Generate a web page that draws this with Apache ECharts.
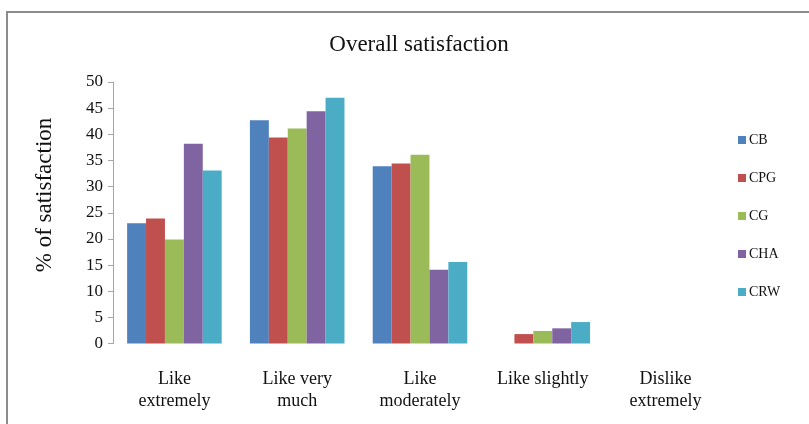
<!DOCTYPE html>
<html>
<head>
<meta charset="utf-8">
<script src="https://cdn.jsdelivr.net/npm/echarts@6/dist/echarts.min.js"></script>
<style>
  html, body { margin: 0; padding: 0; background: #fff; }
  #chart { width: 809px; height: 424px; }
</style>
</head>
<body>
<div id="chart"></div>
<script>
// Satisfaction levels (x-axis categories)
const categories = ['Like\nextremely', 'Like very\nmuch', 'Like\nmoderately', 'Like slightly', 'Dislike\nextremely'];

// Percentage of satisfaction per product
const seriesNames = ['CB', 'CPG', 'CG', 'CHA', 'CRW'];
const CB  = [23.0, 42.7, 33.9, 0,   0];
const CPG = [23.9, 39.4, 34.4, 1.8, 0];
const CG  = [19.9, 41.1, 36.1, 2.4, 0];
const CHA = [38.2, 44.4, 14.1, 2.9, 0];
const CRW = [33.1, 47.0, 15.6, 4.1, 0];
const seriesValues = [CB, CPG, CG, CHA, CRW];

const colors = ['#4F81BD', '#C0504D', '#9BBB59', '#8064A2', '#4BACC6'];
const serif = '"Liberation Serif", "DejaVu Serif", serif';

const chart = echarts.init(document.getElementById('chart'), null, { renderer: 'canvas' });

chart.setOption({
  backgroundColor: '#fff',
  animation: false,
  color: colors,
  graphic: [
    {
      // outer chart frame
      type: 'rect',
      shape: { x: 7, y: 12, width: 900, height: 500 },
      style: { fill: 'none', stroke: '#8c8c8c', lineWidth: 2 },
      silent: true
    },
    {
      // value axis title
      type: 'text',
      x: 45,
      y: 195,
      rotation: Math.PI / 2,
      style: {
        text: '% of satisfaction',
        fontFamily: serif,
        fontSize: 23,
        fill: '#111',
        align: 'center',
        verticalAlign: 'middle'
      },
      silent: true
    }
  ],
  title: {
    text: 'Overall satisfaction',
    left: 414,
    top: 28,
    textAlign: 'center',
    textStyle: { fontFamily: serif, fontSize: 23, fontWeight: 'normal', color: '#111' }
  },
  legend: {
    orient: 'vertical',
    left: 733,
    top: 128,
    itemWidth: 8,
    itemHeight: 8,
    itemGap: 24,
    icon: 'rect',
    data: seriesNames,
    textStyle: { fontFamily: serif, fontSize: 14, color: '#111', padding: [0, 0, 0, -2] }
  },
  grid: { left: 113, right: 82, top: 82, bottom: 80.5 },
  xAxis: {
    type: 'category',
    data: categories,
    axisLine: { show: false },
    axisTick: { show: false },
    axisLabel: {
      interval: 0,
      margin: 25,
      fontFamily: serif,
      fontSize: 18,
      lineHeight: 22,
      color: '#111',
      verticalAlign: 'top'
    }
  },
  yAxis: {
    type: 'value',
    min: 0,
    max: 50,
    interval: 5,
    axisLine: { show: true, lineStyle: { color: '#a6a6a6', width: 1 } },
    axisTick: { show: true, length: 5, lineStyle: { color: '#a6a6a6' } },
    splitLine: { show: false },
    axisLabel: { fontFamily: serif, fontSize: 17, color: '#111', margin: 10 }
  },
  series: seriesNames.map((name, i) => ({
    name: name,
    type: 'bar',
    data: seriesValues[i],
    barGap: '0%',
    barCategoryGap: '23%'
  }))
});
</script>
</body>
</html>
